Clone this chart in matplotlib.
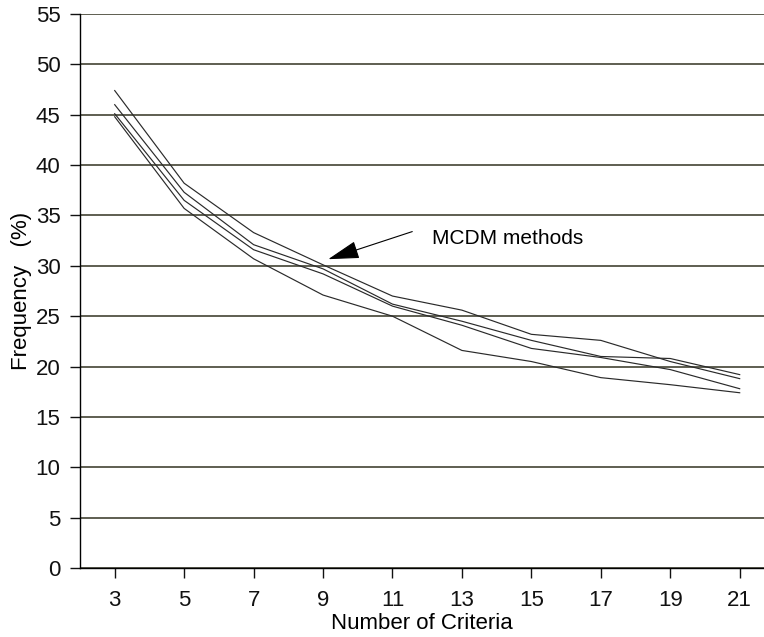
import matplotlib
matplotlib.use("Agg")
import matplotlib.pyplot as plt

plt.rcParams['font.family'] = ['Liberation Sans', 'DejaVu Sans']

criteria = [3, 5, 7, 9, 11, 13, 15, 17, 19, 21]

# four MCDM methods, frequency (%)
method_a = [47.4, 38.2, 33.3, 30.1, 27.0, 25.6, 23.2, 22.6, 20.5, 18.8]
method_b = [46.0, 37.3, 32.1, 29.7, 26.2, 24.5, 22.6, 21.0, 20.8, 19.2]
method_c = [45.1, 36.5, 31.6, 29.2, 26.0, 24.1, 21.8, 20.9, 19.7, 17.8]
method_d = [44.8, 35.7, 30.7, 27.1, 25.0, 21.6, 20.5, 18.9, 18.2, 17.4]

yticks = list(range(0, 56, 5))

fig = plt.figure(figsize=(7.64, 6.37), dpi=100)
ax = fig.add_axes([0.1047, 0.1083, 0.8953, 0.8697])

for s in [method_a, method_b, method_c, method_d]:
    ax.plot(criteria, s, color='#2a2a2a', lw=0.85, zorder=3)

ax.set_xlim(2, 21.7)
ax.set_ylim(0, 55)
ax.set_xticks(criteria)
ax.set_yticks(yticks)
ax.yaxis.grid(True, color='#333322', lw=1.1)
ax.set_axisbelow(True)

for sp in ['top', 'right']:
    ax.spines[sp].set_visible(False)
ax.spines['left'].set_linewidth(1.0)
ax.spines['bottom'].set_linewidth(1.0)
ax.tick_params(axis='both', direction='out', length=7, width=1.0,
               labelsize=16, colors='#111111')
ax.tick_params(axis='y', pad=7)
ax.tick_params(axis='x', pad=9)

ax.set_xlabel('Number of Criteria', fontsize=16, labelpad=1)
ax.set_ylabel('Frequency   (%)', fontsize=16, labelpad=3)

ax.annotate('', xy=(9.15, 30.66), xytext=(11.57, 33.4),
            arrowprops=dict(arrowstyle='-|>,head_length=1.4,head_width=0.4',
                            mutation_scale=14, lw=0.8, color='black',
                            shrinkA=0, shrinkB=0))
ax.text(12.14, 32.7, 'MCDM methods', fontsize=15, ha='left', va='center')

fig.savefig('out.png', dpi=100)
